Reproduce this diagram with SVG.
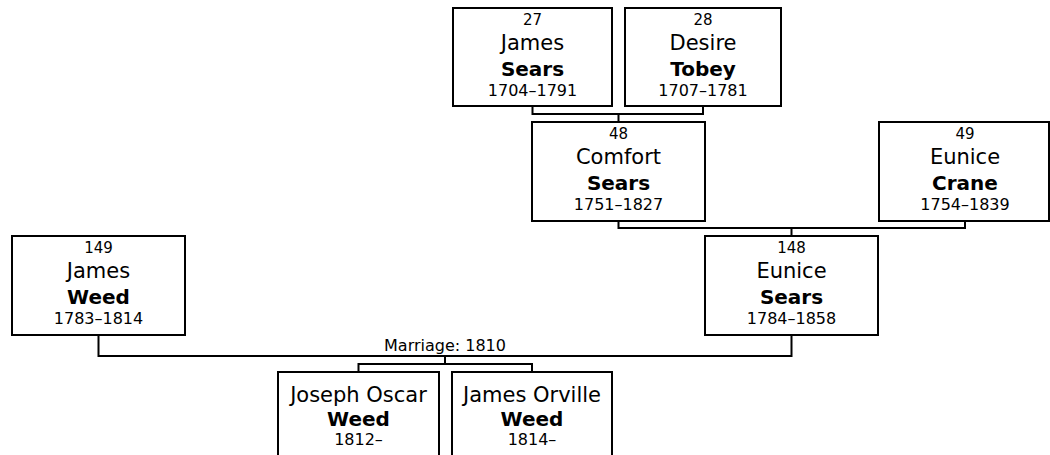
<svg xmlns="http://www.w3.org/2000/svg" width="1050" height="455" viewBox="0 0 1050 455">
<style>
  .box { fill: #ffffff; stroke: #000000; stroke-width: 2; }
  .conn { fill: none; stroke: #000000; stroke-width: 2; }
  text { font-family: "DejaVu Sans", Verdana, sans-serif; fill: #000000; text-anchor: middle; }
  .num { font-size: 15px; }
  .given { font-size: 21px; }
  .sur { font-size: 20px; font-weight: bold; }
  .dates { font-size: 16px; }
  .label { font-size: 16px; }
</style>
<rect x="0" y="0" width="1050" height="455" fill="#ffffff"/>
<g id="connectors">
  <path class="conn" d="M532.5 106 V114 H703 V106 M618.5 114 V122"/>
  <path class="conn" d="M618.5 221 V228 H965 V221 M791.5 228 V236"/>
  <path class="conn" d="M98.5 335 V356 H791.5 V335 M445 356 V364 M358.5 372 V364 H532 V372"/>
  <text class="label" x="445" y="351">Marriage: 1810</text>
</g>
<g id="p27">
  <rect class="box" x="453" y="8" width="159" height="98"/>
  <text class="num" x="532.5" y="25">27</text>
  <text class="given" x="532.5" y="50">James</text>
  <text class="sur" x="532.5" y="76">Sears</text>
  <text class="dates" x="532.5" y="96">1704–1791</text>
</g>
<g id="p28">
  <rect class="box" x="625" y="8" width="156" height="98"/>
  <text class="num" x="703" y="25">28</text>
  <text class="given" x="703" y="50">Desire</text>
  <text class="sur" x="703" y="76">Tobey</text>
  <text class="dates" x="703" y="96">1707–1781</text>
</g>
<g id="p48">
  <rect class="box" x="532" y="122" width="173" height="99"/>
  <text class="num" x="618.5" y="139">48</text>
  <text class="given" x="618.5" y="164">Comfort</text>
  <text class="sur" x="618.5" y="190">Sears</text>
  <text class="dates" x="618.5" y="210">1751–1827</text>
</g>
<g id="p49">
  <rect class="box" x="879" y="122" width="170" height="99"/>
  <text class="num" x="965" y="139">49</text>
  <text class="given" x="965" y="164">Eunice</text>
  <text class="sur" x="965" y="190">Crane</text>
  <text class="dates" x="965" y="210">1754–1839</text>
</g>
<g id="p148">
  <rect class="box" x="705" y="236" width="173" height="99"/>
  <text class="num" x="791.5" y="253">148</text>
  <text class="given" x="791.5" y="278">Eunice</text>
  <text class="sur" x="791.5" y="304">Sears</text>
  <text class="dates" x="791.5" y="324">1784–1858</text>
</g>
<g id="p149">
  <rect class="box" x="12" y="236" width="173" height="99"/>
  <text class="num" x="98.5" y="253">149</text>
  <text class="given" x="98.5" y="278">James</text>
  <text class="sur" x="98.5" y="304">Weed</text>
  <text class="dates" x="98.5" y="324">1783–1814</text>
</g>
<g id="c1">
  <rect class="box" x="278" y="372" width="161" height="100"/>
  <text class="given" x="358.5" y="402">Joseph Oscar</text>
  <text class="sur" x="358.5" y="426">Weed</text>
  <text class="dates" x="358.5" y="445">1812–</text>
</g>
<g id="c2">
  <rect class="box" x="452" y="372" width="160" height="100"/>
  <text class="given" x="532" y="402">James Orville</text>
  <text class="sur" x="532" y="426">Weed</text>
  <text class="dates" x="532" y="445">1814–</text>
</g>
</svg>
